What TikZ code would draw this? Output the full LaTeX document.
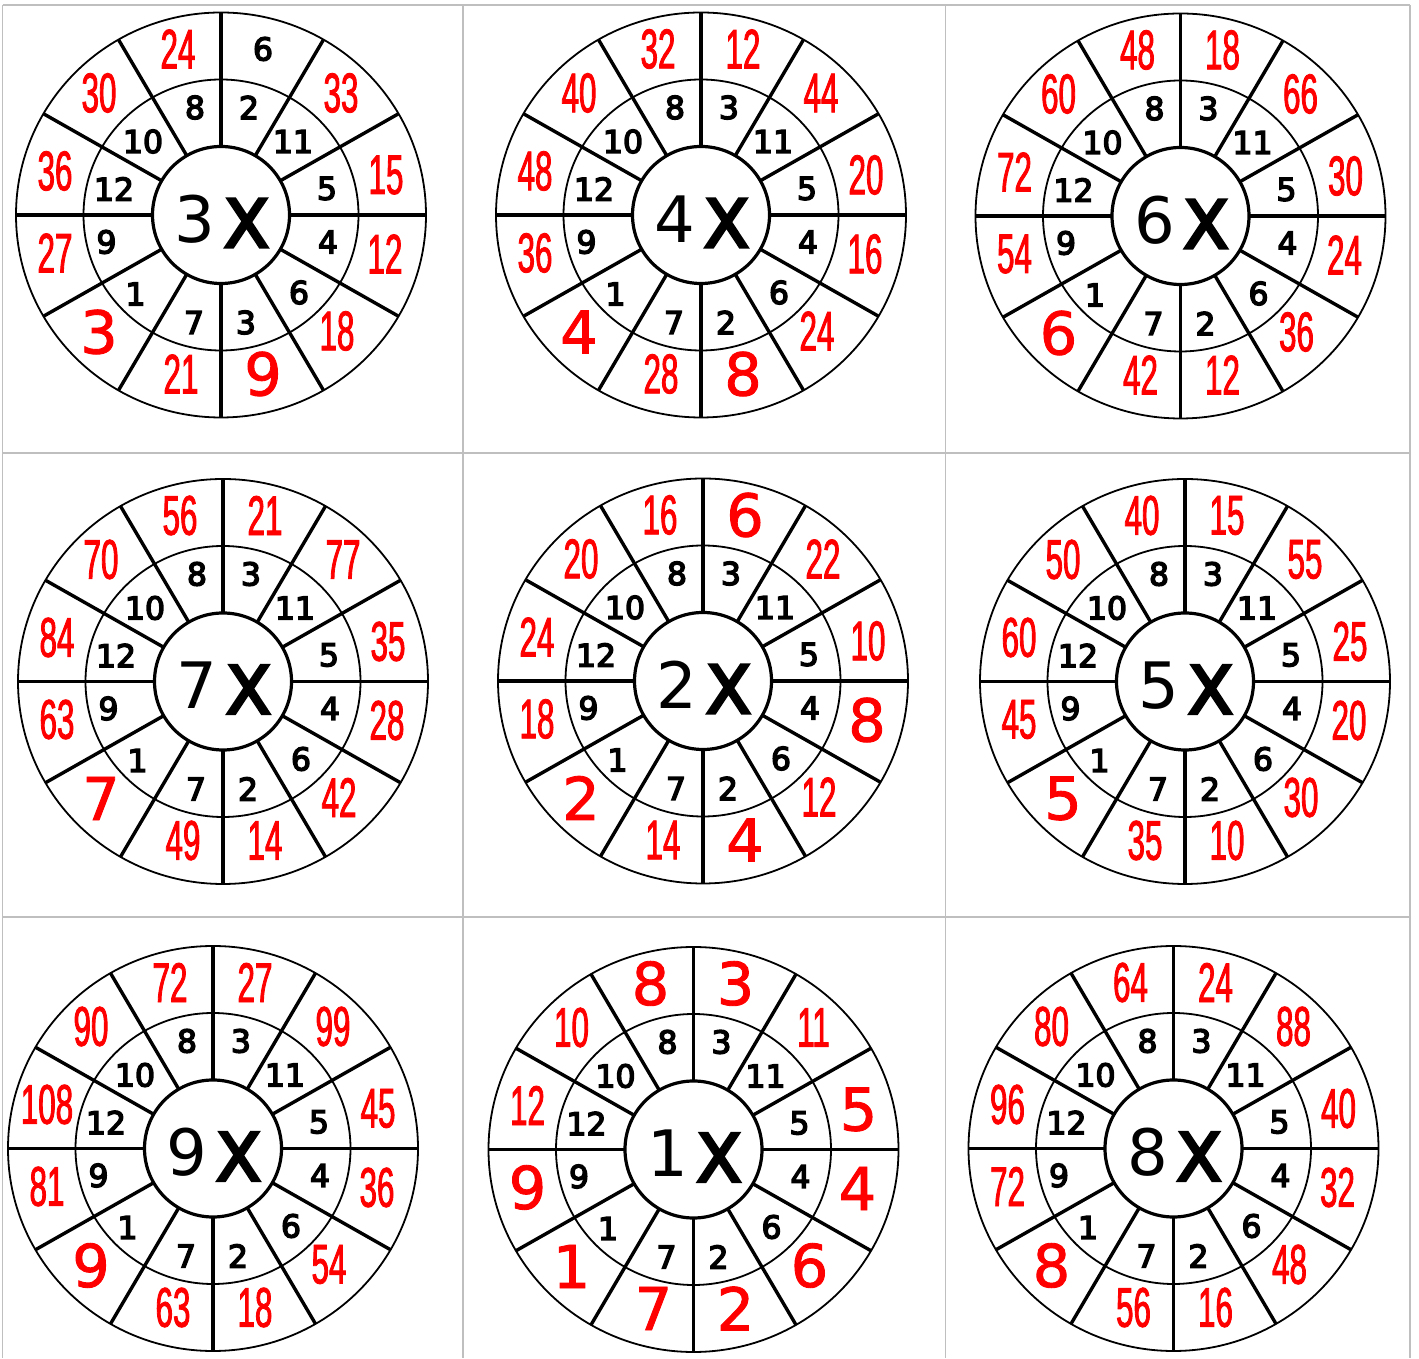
\documentclass[tikz,border=0pt]{standalone}
\usepackage{fontspec}
\setmainfont{DejaVu Sans}
\newfontfamily\redcond[FakeStretch=0.56,FakeBold=1.5]{Liberation Sans}
\newfontfamily\bigred[FakeBold=1.5]{DejaVu Sans}
\newfontfamily\blacknum[FakeBold=4.5]{DejaVu Sans}
\newfontfamily\hubxfont[FakeBold=4.5]{DejaVu Sans}
\usetikzlibrary{calc}
\tikzset{
  gridline/.style={draw=black!25, line width=1.2pt},
  ring/.style={line width=1.8pt},
  hub/.style={line width=3.2pt, fill=white},
  spoke/.style={line width=3.4pt},
  innum/.style={font=\blacknum\fontsize{31.5}{31.5}\selectfont, inner sep=0pt},
  kout/.style={innum},
  cout/.style={font=\redcond\fontsize{56}{56}\selectfont, text=red, inner sep=0pt},
  bout/.style={font=\bigred\fontsize{59}{59}\selectfont, text=red, inner sep=0pt},
  hubnum/.style={font=\fontsize{64}{64}\selectfont, inner sep=0pt},
  hubx/.style={font=\hubxfont\fontsize{66}{66}\selectfont, inner sep=0pt},
}
\def\ixs{{28,72,106,107,78,25,-27,-85.5,-114.5,-107,-78,-26}}
\def\iys{{107.5,73.5,26.5,-27,-77.5,-107.5,-107.5,-79,-27,26,73.5,107.5}}
\def\oxs{{42,120,165,164,116,42,-40,-122,-166,-166,-122,-43}}
\def\oys{{166,122,40,-39,-116,-159,-159,-117,-38,44,122,166}}
\newcommand\mulwheel[5]{%
  \begin{scope}[shift={(#2,#3)}]
    \draw[ring] (0,0) ellipse[x radius=205, y radius=202.5];
    \draw[ring] (0,0) ellipse[x radius=137.5, y radius=135.5];
    \foreach \a in {0,30,...,330}
      \draw[spoke] ({68*cos(\a)},{68*sin(\a)}) -- ({205*cos(\a)},{202.5*sin(\a)});
    \draw[hub] (0,0) circle[radius=68.5];
    \node[hubnum] (#1n) at (-26,-4) {#4};
    \node[hubx] (#1x) at (25.5,-8) {X};
    \foreach \inn/\out/\sty [count=\k] in {#5} {
      \pgfmathsetmacro\ix{\ixs[\k-1]}
      \pgfmathsetmacro\iy{\iys[\k-1]}
      \pgfmathsetmacro\ox{\oxs[\k-1]}
      \pgfmathsetmacro\oy{\oys[\k-1]}
      \node[innum] (#1i\k) at (\ix,\iy) {\inn};
      \node[\sty] (#1o\k) at (\ox,\oy) {\out};
    }
  \end{scope}}
\begin{document}
\begin{tikzpicture}[x=1pt,y=1pt]
  \useasboundingbox (0,0) rectangle (1419,1358);
  % grid
  \draw[gridline] (2.5,1353) -- (1410,1353);
  \draw[gridline] (2.5,905) -- (1410,905);
  \draw[gridline] (2.5,441) -- (1410,441);
  \draw[gridline] (2.5,1353) -- (2.5,0);
  \draw[gridline] (463,1353) -- (463,0);
  \draw[gridline] (945.5,1353) -- (945.5,0);
  \draw[gridline] (1410,1353) -- (1410,0);
  % wheels
  \mulwheel{a}{221}{1143}{3}{2/6/kout,11/33/cout,5/15/cout,4/12/cout,6/18/cout,3/9/bout,7/21/cout,1/3/bout,9/27/cout,12/36/cout,10/30/cout,8/24/cout}
  \mulwheel{b}{701}{1143}{4}{3/12/cout,11/44/cout,5/20/cout,4/16/cout,6/24/cout,2/8/bout,7/28/cout,1/4/bout,9/36/cout,12/48/cout,10/40/cout,8/32/cout}
  \mulwheel{c}{1180.5}{1142}{6}{3/18/cout,11/66/cout,5/30/cout,4/24/cout,6/36/cout,2/12/cout,7/42/cout,1/6/bout,9/54/cout,12/72/cout,10/60/cout,8/48/cout}
  \mulwheel{d}{223}{676.5}{7}{3/21/cout,11/77/cout,5/35/cout,4/28/cout,6/42/cout,2/14/cout,7/49/cout,1/7/bout,9/63/cout,12/84/cout,10/70/cout,8/56/cout}
  \mulwheel{e}{703}{677}{2}{3/6/bout,11/22/cout,5/10/cout,4/8/bout,6/12/cout,2/4/bout,7/14/cout,1/2/bout,9/18/cout,12/24/cout,10/20/cout,8/16/cout}
  \mulwheel{f}{1185}{676.5}{5}{3/15/cout,11/55/cout,5/25/cout,4/20/cout,6/30/cout,2/10/cout,7/35/cout,1/5/bout,9/45/cout,12/60/cout,10/50/cout,8/40/cout}
  \mulwheel{g}{213}{209.5}{9}{3/27/cout,11/99/cout,5/45/cout,4/36/cout,6/54/cout,2/18/cout,7/63/cout,1/9/bout,9/81/cout,12/108/cout,10/90/cout,8/72/cout}
  \mulwheel{h}{693.5}{208.5}{1}{3/3/bout,11/11/cout,5/5/bout,4/4/bout,6/6/bout,2/2/bout,7/7/bout,1/1/bout,9/9/bout,12/12/cout,10/10/cout,8/8/bout}
  \mulwheel{k}{1173.5}{209.5}{8}{3/24/cout,11/88/cout,5/40/cout,4/32/cout,6/48/cout,2/16/cout,7/56/cout,1/8/bout,9/72/cout,12/96/cout,10/80/cout,8/64/cout}
\end{tikzpicture}
\end{document}
